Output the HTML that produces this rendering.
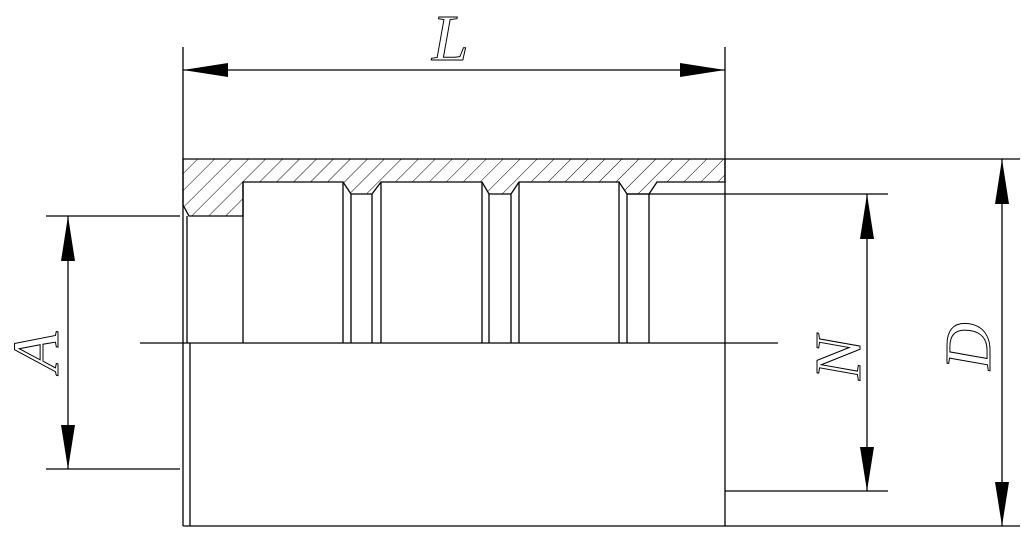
<!DOCTYPE html>
<html><head><style>html,body{margin:0;padding:0;background:#fff}svg{display:block}</style></head>
<body>
<svg width="1021" height="537" viewBox="0 0 1021 537" xmlns="http://www.w3.org/2000/svg">
<defs>
<pattern id="h" patternUnits="userSpaceOnUse" width="12" height="12" patternTransform="rotate(45)">
<line x1="0" y1="0" x2="0" y2="12" stroke="#000" stroke-width="1"/>
</pattern>
</defs>
<g stroke="#000" stroke-width="1.3" fill="none">
<path d="M183,159 L725,159 L725,182 L657,182 L649,194 L627,194 L619,182 L519,182 L511,194 L489,194 L482,182 L381,182 L372,194 L351,194 L343,182 L243,182 L243,216 L189,216 L183,205 Z" fill="url(#h)"/>
<line x1="187" y1="216" x2="187" y2="343"/>
<line x1="243" y1="182" x2="243" y2="343"/>
<line x1="343" y1="182" x2="343" y2="343"/>
<line x1="351" y1="194" x2="351" y2="343"/>
<line x1="372" y1="194" x2="372" y2="343"/>
<line x1="381" y1="182" x2="381" y2="343"/>
<line x1="482" y1="182" x2="482" y2="343"/>
<line x1="489" y1="194" x2="489" y2="343"/>
<line x1="511" y1="194" x2="511" y2="343"/>
<line x1="519" y1="182" x2="519" y2="343"/>
<line x1="619" y1="182" x2="619" y2="343"/>
<line x1="627" y1="194" x2="627" y2="343"/>
<line x1="649" y1="194" x2="649" y2="343"/>
<line x1="627" y1="194" x2="888" y2="194"/>
<line x1="183" y1="47" x2="183" y2="526"/>
<line x1="190" y1="343" x2="190" y2="526"/>
<line x1="725" y1="47" x2="725" y2="526"/>
<line x1="183" y1="526" x2="1020" y2="526"/>
<line x1="725" y1="159" x2="1020" y2="159"/>
<line x1="140" y1="343" x2="778" y2="343"/>
<line x1="725" y1="491" x2="888" y2="491"/>
<line x1="46" y1="216" x2="180" y2="216"/>
<line x1="46" y1="469" x2="180" y2="469"/>
<line x1="183" y1="70" x2="725" y2="70"/>
<line x1="68" y1="216" x2="68" y2="469"/>
<line x1="867" y1="194" x2="867" y2="491"/>
<line x1="1002" y1="159" x2="1002" y2="526"/>
</g>
<g fill="#000">
<polygon points="183,70 228,63 228,77"/>
<polygon points="725,70 680,63 680,77"/>
<polygon points="68,216 61,261 75,261"/>
<polygon points="68,469 61,425 75,425"/>
<polygon points="867,194 860,239 874,239"/>
<polygon points="867,491 860,447 874,447"/>
<polygon points="1002,159 995,204 1009,204"/>
<polygon points="1002,526 995,482 1009,482"/>
</g>
<g font-family="Liberation Serif, serif" font-style="italic" font-size="66" fill="none" stroke="#000" stroke-width="1">
<text x="432" y="60">L</text>
<text transform="translate(58,372) rotate(-90)">A</text>
<text transform="translate(860,380) rotate(-90)">N</text>
<text transform="translate(990,370) rotate(-90)">D</text>
</g>
</svg>
</body></html>
